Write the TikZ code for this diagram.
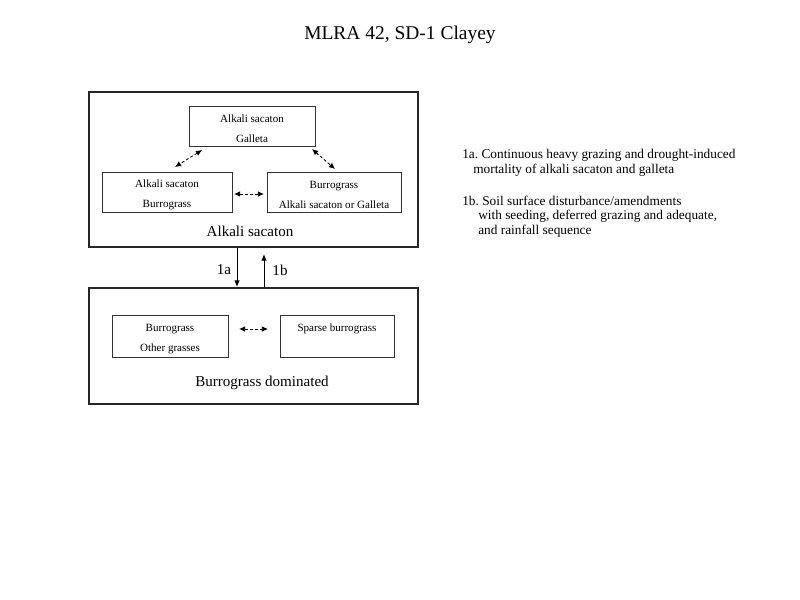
\documentclass[tikz,border=0pt]{standalone}
\usepackage{fontspec}
\setmainfont{Liberation Serif}
\frenchspacing
\usetikzlibrary{arrows.meta,calc}
\begin{document}
\begin{tikzpicture}[x=0.75pt,y=-0.75pt,
  outerbox/.style={draw=black!85,line width=1.8pt,inner sep=0pt,outer sep=0pt,minimum width=246.75pt},
  innerbox/.style={draw=black!80,line width=0.7pt,inner sep=0pt,outer sep=0pt},
  boxtext/.style={align=center,inner sep=0pt,yshift=-2.4pt,font=\fontsize{8.3}{15}\selectfont},
  biglabel/.style={font=\fontsize{11.3}{13}\selectfont,inner sep=0pt},
  note/.style={anchor=west,inner sep=0pt,font=\fontsize{10}{12}\selectfont},
  dasharrow/.style={dashed,dash pattern=on 2.2pt off 1.6pt,line width=0.65pt,
     {Latex[length=4.6pt,width=4.2pt]}-{Latex[length=4.6pt,width=4.2pt]}},
  trans/.style={line width=0.75pt,-{Latex[length=5pt,width=4.2pt]}}
]
\useasboundingbox (0,0) rectangle (800,600);
\fill[white] (0,0) rectangle (800,600);

% title
\node[font=\fontsize{14.6}{17}\selectfont,inner sep=0pt] (title) at (400,35) {MLRA 42, SD-1 Clayey};

% outer boxes
\node[outerbox,minimum height=116.25pt] (s1) at (253.5,169.5) {};
\node[outerbox,minimum height=87pt] (s2) at (253.5,346) {};

% state 1 inner boxes
\node[innerbox,minimum width=94.5pt,minimum height=30pt] (top) at (252,126) {};
\node[boxtext] (toptext) at (top.center) {Alkali sacaton\\Galleta};
\node[innerbox,minimum width=97.5pt,minimum height=30pt] (left) at (167,192) {};
\node[boxtext] (lefttext) at (left.center) {Alkali sacaton\\Burrograss};
\node[innerbox,minimum width=100.5pt,minimum height=30pt] (right) at (334,192) {};
\node[boxtext] (righttext) at (right.center) {Burrograss\\Alkali sacaton or Galleta};
\node[biglabel] (s1lab) at (250,231) {Alkali sacaton};

\draw[dasharrow] ($(top.south west)+(13,4)$) -- ($(left.north)+(8,-5)$);
\draw[dasharrow] ($(top.south east)+(-3,3)$) -- ($(right.north)+(1,-3)$);
\draw[dasharrow] ($(left.east)+(2,2)$) -- ($(right.west)+(-3,2)$);

% state 2 inner boxes
\node[innerbox,minimum width=87pt,minimum height=31.5pt] (bl) at (170,336) {};
\node[boxtext] (bltext) at (bl.center) {Burrograss\\Other grasses};
\node[innerbox,minimum width=85.5pt,minimum height=31.5pt] (br) at (337,336) {};
\node[boxtext,yshift=7.5pt] (brtext) at (br.center) {Sparse burrograss};
\node[biglabel] (s2lab) at (262,383) {Burrograss dominated};

\draw[dasharrow] ($(bl.east)+(11,-7)$) -- ($(br.west)+(-12,-7)$);

% transitions
\draw[trans] ($(s1.south)+(-16.5,1)$) -- ($(s2.north)+(-16.5,-1)$);
\draw[trans] ($(s2.north)+(10.5,-1)$) -- ($(s1.south)+(10.5,7)$);
\node[biglabel] (l1a) at (224,270) {1a};
\node[biglabel] (l1b) at (280,270) {1b};

% notes
\node[note] (n1) at (462,155) {1a. Continuous heavy grazing and drought-induced};
\node[note] (n2) at (473,170) {mortality of alkali sacaton and galleta};
\node[note] (n3) at (462,201) {1b. Soil surface disturbance/amendments};
\node[note] (n4) at (478,216) {with seeding, deferred grazing and adequate,};
\node[note] (n5) at (478,231) {and rainfall sequence};
\end{tikzpicture}
\end{document}
